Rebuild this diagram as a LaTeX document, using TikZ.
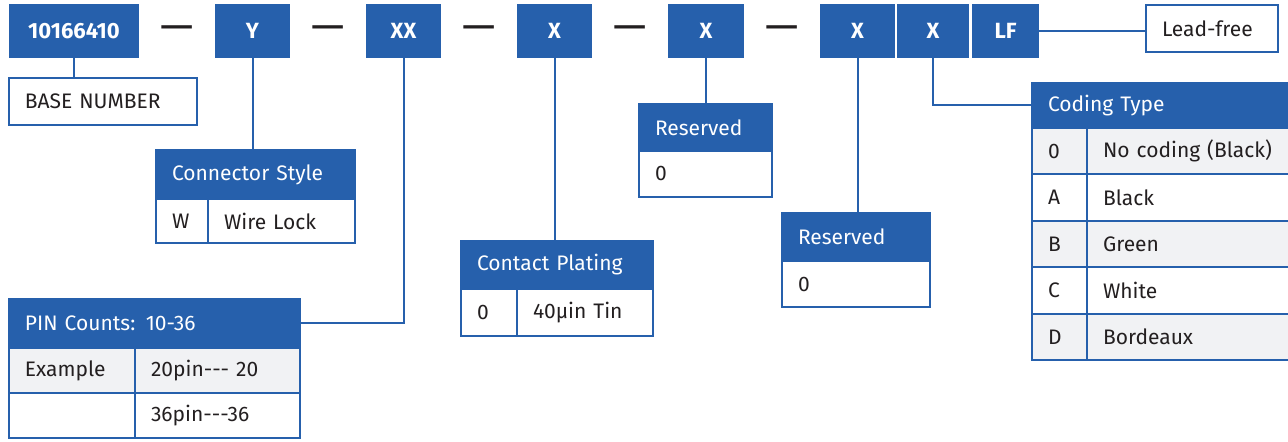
\documentclass[tikz,border=0pt]{standalone}
\usepackage{fontspec}
\setmainfont{Fira Sans}
\usepackage{tikz}
\usetikzlibrary{positioning,calc}
\definecolor{pnblue}{HTML}{2660AC}
\definecolor{pngrey}{HTML}{F1F2F4}
\definecolor{pnblack}{HTML}{231F20}

\begin{document}
\begin{tikzpicture}[x=1pt,y=-1pt,node distance=38pt,
  every node/.style={outer sep=0pt,inner sep=0pt,font=\fontsize{10.5}{12.5}\selectfont},
  codebox/.style={fill=pnblue,text=white,font=\fontsize{11}{13}\selectfont\bfseries,
    minimum width=#1pt,minimum height=27pt},
  hdr/.style args={#1,#2}{fill=pnblue,draw=pnblue,line width=1pt,text=white,
    align=left,inner xsep=8pt,text width=#1pt-16pt,minimum height=#2pt},
  cell/.style args={#1,#2}{fill=white,draw=pnblue,line width=1pt,text=pnblack,
    align=left,inner xsep=8pt,text width=#1pt-16pt,minimum height=#2pt},
  shade/.style={fill=pngrey},
  wire/.style={draw=pnblue,line width=1pt},
  dashmark/.style={text=pnblack,font=\fontsize{21}{23}\selectfont,yshift=-1pt}]

  \useasboundingbox (0,0) rectangle (644,221);

  \node [codebox=65,anchor=north west] (base) at (4.5,2) {10166410};
  \node [codebox=37.5,right=of base] (ybox) {Y};
  \node [codebox=37.5,right=of ybox] (xx) {XX};
  \node [codebox=37.5,right=of xx] (xone) {X};
  \node [codebox=38,right=of xone] (xtwo) {X};
  \node [codebox=37.5,right=of xtwo] (xthree) {X};
  \node [codebox=36,right=1pt of xthree] (xfour) {X};
  \node [codebox=33.5,right=1.5pt of xfour] (lf) {LF};

  \node [dashmark] (d1) at ($(base.east)!0.5!(ybox.west)$) {—};
  \node [dashmark] (d2) at ($(ybox.east)!0.5!(xx.west)$) {—};
  \node [dashmark] (d3) at ($(xx.east)!0.5!(xone.west)$) {—};
  \node [dashmark] (d4) at ($(xone.east)!0.5!(xtwo.west)$) {—};
  \node [dashmark] (d5) at ($(xtwo.east)!0.5!(xthree.west)$) {—};

  \node [cell={66,23.5},anchor=north west] (lead) at (573,2.5) {Lead-free};
  \node [cell={94,23.5},anchor=north west] (basenum) at (4.5,39) {BASE NUMBER};

  % connector style
  \node [hdr={99.5,24.5},anchor=north west] (cshdr) at (78,75) {Connector Style};
  \node [cell={26,22},below right=0pt of cshdr.south west] (cs1) {W};
  \node [cell={73.5,22},right=0pt of cs1] (cs2) {Wire Lock};

  % pin counts
  \node [hdr={145.5,24.5},anchor=north west] (pinhdr) at (4.5,149.5) {PIN Counts: 10-36};
  \node [cell={63,22.5},shade,below right=0pt of pinhdr.south west] (pin1) {Example};
  \node [cell={82.5,22.5},shade,right=0pt of pin1] (pin2) {20pin{-}{-}{-} 20};
  \node [cell={63,22.5},below right=0pt of pin1.south west] (pin3) {};
  \node [cell={82.5,22.5},right=0pt of pin3] (pin4) {36pin{-}{-}{-}36};

  % contact plating
  \node [hdr={96,24},anchor=north west] (cphdr) at (230.5,120.5) {Contact Plating};
  \node [cell={28,23.5},below right=0pt of cphdr.south west] (cp1) {0};
  \node [cell={68,23.5},right=0pt of cp1] (cp2) {40µin Tin};

  % reserved
  \node [hdr={66.5,23.5},anchor=north west] (rahdr) at (319.5,52) {Reserved};
  \node [cell={66.5,23},below right=0pt of rahdr.south west] (ra1) {0};
  \node [hdr={74,24},anchor=north west] (rbhdr) at (391,106.5) {Reserved};
  \node [cell={74,23},below right=0pt of rbhdr.south west] (rb1) {0};

  % coding type
  \node [hdr={134,22.5},anchor=north west] (cthdr) at (516,41.5) {Coding Type};
  \node [cell={27.5,23.2},shade,below right=0pt of cthdr.south west] (ct1) {0};
  \node [cell={106.5,23.2},shade,right=0pt of ct1] (ct1v) {No coding (Black)};
  \node [cell={27.5,23.2},below right=0pt of ct1.south west] (ct2) {A};
  \node [cell={106.5,23.2},right=0pt of ct2] (ct2v) {Black};
  \node [cell={27.5,23.2},shade,below right=0pt of ct2.south west] (ct3) {B};
  \node [cell={106.5,23.2},shade,right=0pt of ct3] (ct3v) {Green};
  \node [cell={27.5,23.2},below right=0pt of ct3.south west] (ct4) {C};
  \node [cell={106.5,23.2},right=0pt of ct4] (ct4v) {White};
  \node [cell={27.5,23.2},shade,below right=0pt of ct4.south west] (ct5) {D};
  \node [cell={106.5,23.2},shade,right=0pt of ct5] (ct5v) {Bordeaux};

  \draw [wire] (base.south) -- (base.south |- basenum.north);
  \draw [wire] (ybox.south) -- (ybox.south |- cshdr.north);
  \draw [wire] (xx.south) |- (pinhdr.east);
  \draw [wire] (xone.south) -- (xone.south |- cphdr.north);
  \draw [wire] (xtwo.south) -- (xtwo.south |- rahdr.north);
  \draw [wire] (xthree.south) -- (xthree.south |- rbhdr.north);
  \draw [wire] (xfour.south) |- (cthdr.west);
  \draw [wire] (lf.east) -- (lf.east -| lead.west);

\end{tikzpicture}
\end{document}
